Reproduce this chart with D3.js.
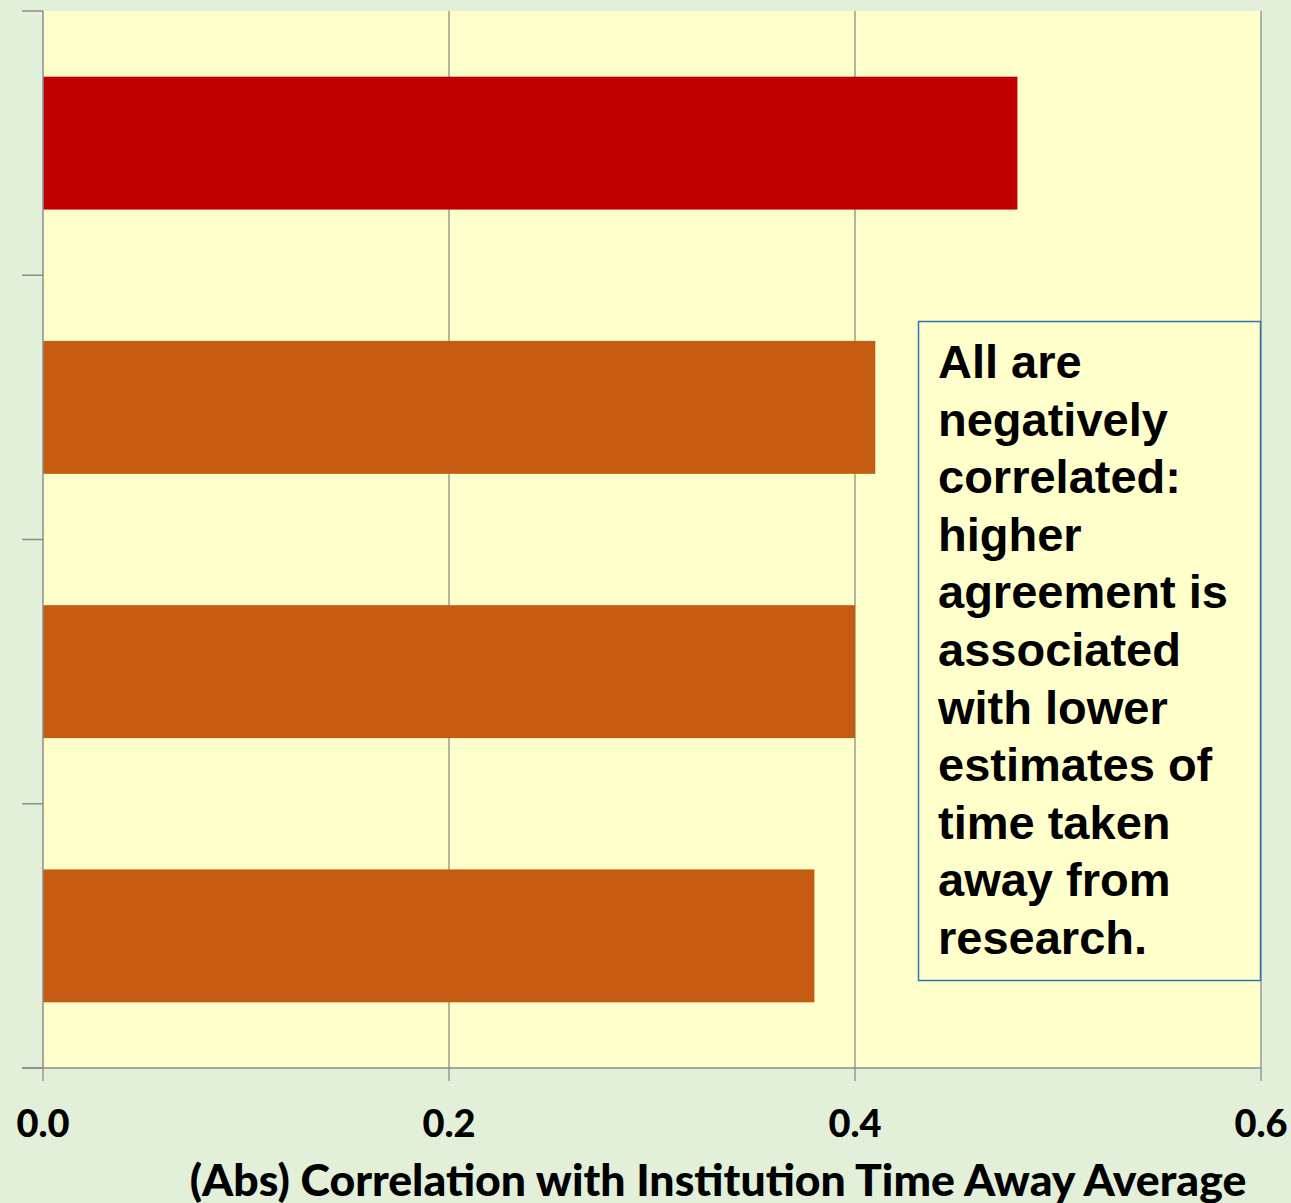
<!DOCTYPE html>
<html><head><meta charset="utf-8">
<script src="https://cdn.jsdelivr.net/npm/d3@7"></script>
<style>html,body{margin:0;padding:0;background:#e2efd9;}svg{display:block;}</style>
</head><body>
<svg id="c" width="1291" height="1203"></svg>
<script>
const categories = ["Item A", "Item B", "Item C", "Item D"];
const values = [0.48, 0.41, 0.40, 0.38];
const barColors = ["#c00000", "#c55a11", "#c55a11", "#c55a11"];
const xTicks = [0, 0.2, 0.4, 0.6];
const xTickLabels = ["0.0", "0.2", "0.4", "0.6"];
const axisTitle = "(Abs) Correlation with Institution Time Away Average";
const noteLines = ["All are", "negatively", "correlated:", "higher", "agreement is", "associated", "with lower", "estimates of", "time taken", "away from", "research."];

const svg = d3.select("#c");
const L = 43, R = 1261, T = 11, B = 1068;
const x = d3.scaleLinear().domain([0, 0.6]).range([L, R]);
const y = d3.scaleBand().domain(categories).range([T, B]).paddingInner(0.497).paddingOuter(0.2485);

svg.append("rect").attr("width", 1291).attr("height", 1203).attr("fill", "#e2efd9");
svg.append("rect").attr("x", L).attr("y", T).attr("width", R - L).attr("height", B - T).attr("fill", "#ffffcc");

// vertical gridlines
svg.append("g").selectAll("line").data(xTicks.slice(1)).join("line")
  .attr("x1", d => x(d)).attr("x2", d => x(d)).attr("y1", T).attr("y2", B)
  .attr("stroke", "#8c8c8c").attr("stroke-width", 1.3);

// bars
svg.append("g").selectAll("rect").data(values).join("rect")
  .attr("x", x(0)).attr("y", (d, i) => y(categories[i]))
  .attr("width", d => x(d) - x(0)).attr("height", y.bandwidth())
  .attr("fill", (d, i) => barColors[i]);

// y axis line and ticks at band boundaries
svg.append("line").attr("x1", L).attr("x2", L).attr("y1", T).attr("y2", B).attr("stroke", "#8c8c8c").attr("stroke-width", 1.5);
const bounds = d3.range(categories.length + 1).map(i => T + i * y.step());
svg.append("g").selectAll("line").data(bounds).join("line")
  .attr("x1", 22).attr("x2", L).attr("y1", d => d).attr("y2", d => d)
  .attr("stroke", "#8c8c8c").attr("stroke-width", 1.5);

// x axis
svg.append("line").attr("x1", 22).attr("x2", R).attr("y1", B).attr("y2", B).attr("stroke", "#8c8c8c").attr("stroke-width", 1.5);
svg.append("g").selectAll("line").data(xTicks).join("line")
  .attr("x1", d => x(d)).attr("x2", d => x(d)).attr("y1", B).attr("y2", B + 13)
  .attr("stroke", "#8c8c8c").attr("stroke-width", 1.3);
svg.append("g").selectAll("text").data(xTicks).join("text")
  .attr("x", d => x(d)).attr("y", 1137).attr("text-anchor", "middle")
  .attr("font-family", "Lato, 'Open Sans', sans-serif").attr("font-weight", 900).attr("font-size", 38)
  .attr("fill", "#000").text((d, i) => xTickLabels[i]);

const title = svg.append("text").attr("x", 718).attr("y", 1196).attr("text-anchor", "middle")
  .attr("font-family", "Lato, 'Open Sans', sans-serif").attr("font-weight", 900).attr("font-size", 40)
  .attr("fill", "#000").text(axisTitle);
const tw = title.node().getComputedTextLength();
title.attr("font-size", 40 * 1057 / tw);

// note box
svg.append("rect").attr("x", 918.5).attr("y", 321.5).attr("width", 342).attr("height", 659)
  .attr("fill", "#ffffcc").attr("stroke", "#2e75b6").attr("stroke-width", 1.5);
svg.append("g").selectAll("text").data(noteLines).join("text")
  .attr("x", 938).attr("y", (d, i) => 378 + i * 57.6)
  .attr("font-family", "'Liberation Sans', Arial, sans-serif").attr("font-weight", "bold").attr("font-size", 47)
  .attr("fill", "#000").text(d => d);
</script>
</body></html>
